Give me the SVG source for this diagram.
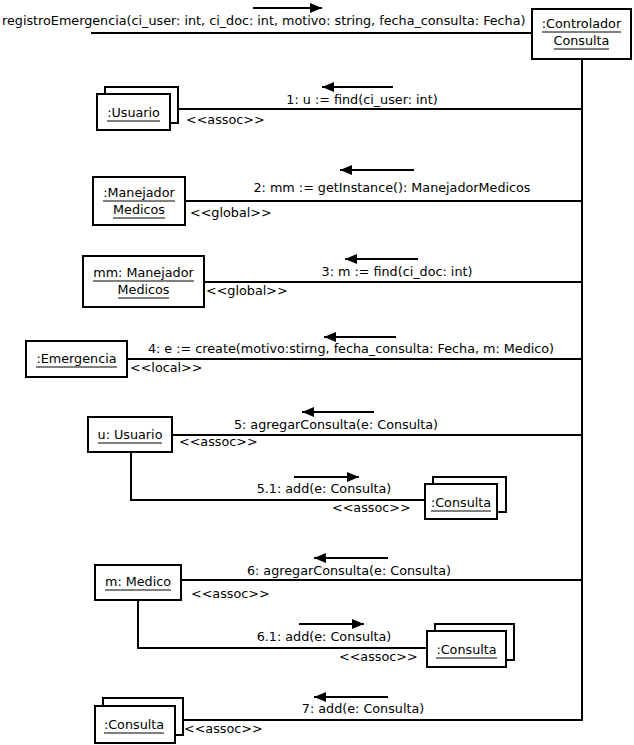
<svg xmlns="http://www.w3.org/2000/svg" width="634" height="745" viewBox="0 0 634 745">
<defs>
<marker id="ah" viewBox="0 0 12 10" refX="12" refY="5" markerWidth="12" markerHeight="10" markerUnits="userSpaceOnUse" orient="auto">
<path d="M0,0 L12,5 L0,10 Z" fill="#000"/>
</marker>
</defs>
<style>
text{font-family:"DejaVu Sans","Liberation Sans",sans-serif;font-size:12.75px;fill:#000}
.b{fill:#fff;stroke:#000;stroke-width:2}
.l{fill:none;stroke:#000;stroke-width:2}
.u{stroke:#000;stroke-width:1}
.a{stroke:#000;stroke-width:2;fill:none;marker-end:url(#ah)}
.m{text-anchor:middle}
</style>
<rect width="634" height="745" fill="#fff"/>
<g id="connectors">
<line class="l" x1="91" y1="33" x2="532" y2="33"/>
<line class="l" x1="582" y1="59" x2="582" y2="721"/>
<line class="l" x1="178" y1="109" x2="582" y2="109"/>
<line class="l" x1="185" y1="201" x2="582" y2="201"/>
<line class="l" x1="204" y1="282" x2="582" y2="282"/>
<line class="l" x1="127" y1="359" x2="582" y2="359"/>
<line class="l" x1="172" y1="435" x2="582" y2="435"/>
<polyline class="l" points="131,452 131,500 425,500"/>
<line class="l" x1="181" y1="580" x2="582" y2="580"/>
<polyline class="l" points="138,600 138,648 427,648"/>
<line class="l" x1="183" y1="720" x2="582" y2="720"/>
<line class="a" x1="253" y1="8" x2="322" y2="8"/>
<line class="a" x1="393" y1="87" x2="322" y2="87"/>
<line class="a" x1="414" y1="170" x2="340" y2="170"/>
<line class="a" x1="418" y1="259" x2="345" y2="259"/>
<line class="a" x1="396" y1="337" x2="324" y2="337"/>
<line class="a" x1="374" y1="412" x2="302" y2="412"/>
<line class="a" x1="294" y1="477" x2="359" y2="477"/>
<line class="a" x1="388" y1="558" x2="314" y2="558"/>
<line class="a" x1="299" y1="624" x2="364" y2="624"/>
<line class="a" x1="388" y1="697" x2="314" y2="697"/>
<text x="2" y="25">registroEmergencia(ci_user: int, ci_doc: int, motivo: string, fecha_consulta: Fecha)</text>
<text class="m" x="362" y="104">1: u := find(ci_user: int)</text>
<text x="186" y="124">&lt;&lt;assoc&gt;&gt;</text>
<text class="m" x="392" y="192">2: mm := getInstance(): ManejadorMedicos</text>
<text x="190" y="217">&lt;&lt;global&gt;&gt;</text>
<text class="m" x="397" y="276">3: m := find(ci_doc: int)</text>
<text x="206" y="295">&lt;&lt;global&gt;&gt;</text>
<text class="m" x="351" y="353">4: e := create(motivo:stirng, fecha_consulta: Fecha, m: Medico)</text>
<text x="130" y="372">&lt;&lt;local&gt;&gt;</text>
<text class="m" x="336" y="429">5: agregarConsulta(e: Consulta)</text>
<text x="179" y="446">&lt;&lt;assoc&gt;&gt;</text>
<text class="m" x="324" y="493">5.1: add(e: Consulta)</text>
<text x="332" y="512">&lt;&lt;assoc&gt;&gt;</text>
<text class="m" x="349" y="575">6: agregarConsulta(e: Consulta)</text>
<text x="191" y="598">&lt;&lt;assoc&gt;&gt;</text>
<text class="m" x="324" y="641">6.1: add(e: Consulta)</text>
<text x="339" y="661">&lt;&lt;assoc&gt;&gt;</text>
<text class="m" x="363" y="713">7: add(e: Consulta)</text>
<text x="184" y="733">&lt;&lt;assoc&gt;&gt;</text>
</g>
<g id="controlador">
<rect class="b" x="532" y="9" width="99" height="50"/>
<text class="m" x="581.5" y="28">:Controlador</text>
<line class="u" x1="542" y1="32" x2="621" y2="32"/>
<text class="m" x="581.5" y="45">Consulta</text>
<line class="u" x1="554" y1="49" x2="609" y2="49"/>
</g>
<g id="usuario-multi">
<rect class="b" x="105" y="87" width="73" height="36"/>
<rect class="b" x="97" y="94" width="73" height="36"/>
<text class="m" x="133.5" y="117">:Usuario</text>
<line class="u" x1="107" y1="121" x2="160" y2="121"/>
</g>
<g id="manejador">
<rect class="b" x="93" y="177" width="92" height="48"/>
<text class="m" x="139" y="197">:Manejador</text>
<line class="u" x1="103" y1="201" x2="175" y2="201"/>
<text class="m" x="139" y="214">Medicos</text>
<line class="u" x1="113" y1="218" x2="165" y2="218"/>
</g>
<g id="mm-manejador">
<rect class="b" x="83" y="256" width="121" height="51"/>
<text class="m" x="143.5" y="277">mm: Manejador</text>
<line class="u" x1="93" y1="281" x2="194" y2="281"/>
<text class="m" x="143.5" y="294">Medicos</text>
<line class="u" x1="118" y1="298" x2="169" y2="298"/>
</g>
<g id="emergencia">
<rect class="b" x="26" y="341" width="101" height="36"/>
<text class="m" x="76.5" y="363">:Emergencia</text>
<line class="u" x1="36" y1="367" x2="117" y2="367"/>
</g>
<g id="u-usuario">
<rect class="b" x="88" y="417" width="84" height="35"/>
<text class="m" x="130" y="439">u: Usuario</text>
<line class="u" x1="98" y1="443" x2="162" y2="443"/>
</g>
<g id="consulta-5">
<rect class="b" x="433" y="477" width="73" height="35"/>
<rect class="b" x="425" y="484" width="72" height="35"/>
<text class="m" x="461" y="507">:Consulta</text>
<line class="u" x1="431" y1="511" x2="491" y2="511"/>
</g>
<g id="m-medico">
<rect class="b" x="95" y="565" width="86" height="35"/>
<text class="m" x="138" y="586">m: Medico</text>
<line class="u" x1="105" y1="590" x2="171" y2="590"/>
</g>
<g id="consulta-6">
<rect class="b" x="435" y="624" width="79" height="36"/>
<rect class="b" x="427" y="631" width="79" height="36"/>
<text class="m" x="466.5" y="654">:Consulta</text>
<line class="u" x1="436" y1="658" x2="497" y2="658"/>
</g>
<g id="consulta-7">
<rect class="b" x="103" y="698" width="80" height="37"/>
<rect class="b" x="95" y="706" width="80" height="37"/>
<text class="m" x="134" y="729">:Consulta</text>
<line class="u" x1="104" y1="733" x2="164" y2="733"/>
</g>
</svg>
